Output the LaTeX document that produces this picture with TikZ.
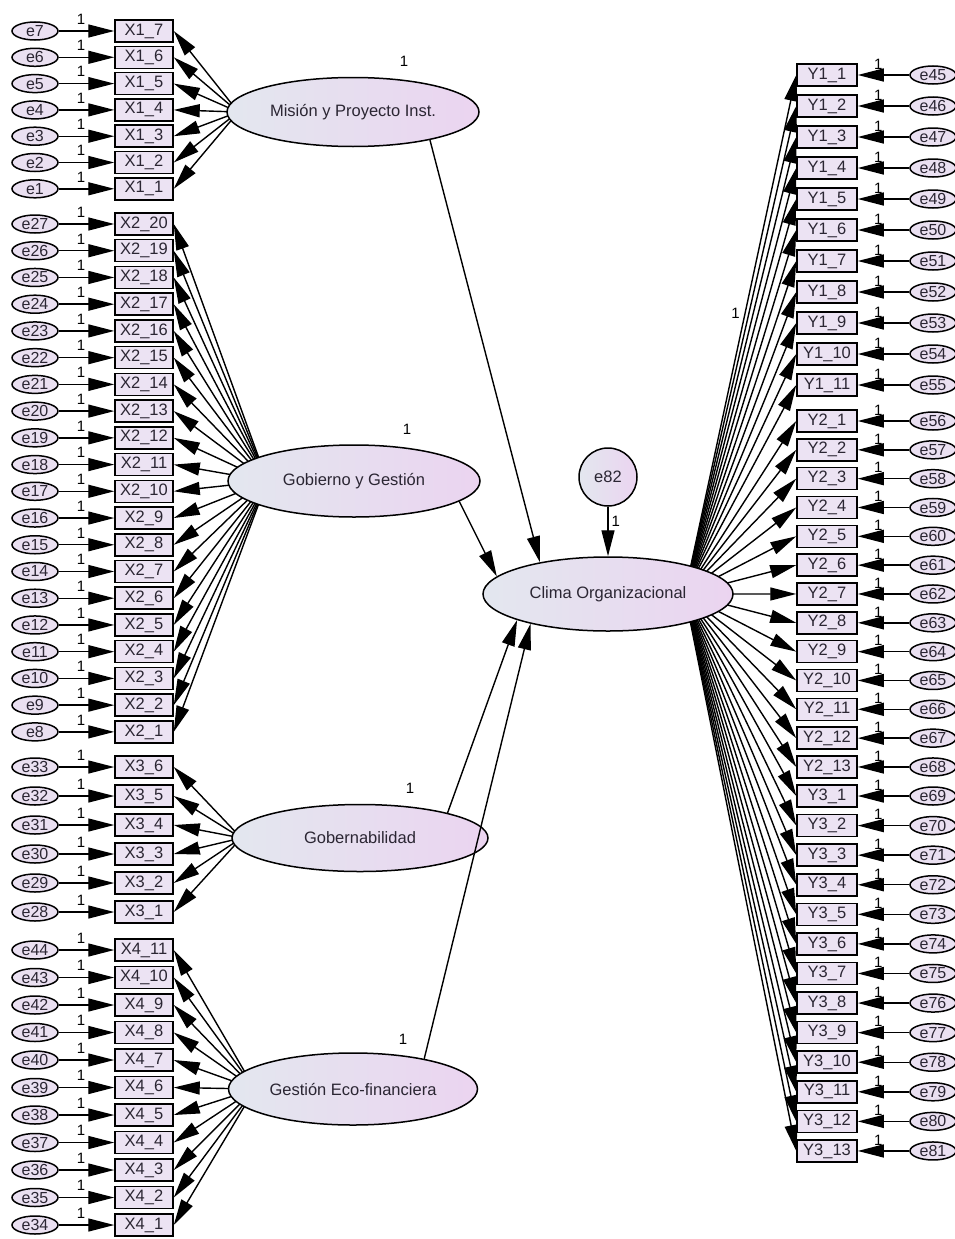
\documentclass[tikz,border=0pt]{standalone}
\usepackage{fontspec}
\setmainfont{Liberation Sans}
\usetikzlibrary{shapes.geometric,arrows.meta,calc,backgrounds}

\definecolor{latleft}{HTML}{E3E7EF}
\definecolor{latright}{HTML}{EBD4F0}
\definecolor{boxfill}{HTML}{ECE3F3}
\definecolor{errfill}{HTML}{EAE0F1}
\definecolor{ink}{HTML}{2B2633}

\tikzset{
  latent/.style={ellipse, draw, line width=1.5pt, inner sep=0pt,
    left color=latleft, right color=latright, text=ink,
    font=\fontsize{16.5}{18}\selectfont},
  obsbox/.style={rectangle, draw, line width=1.5pt, fill=boxfill,
    minimum height=22pt, inner sep=0pt, text=ink,
    font=\fontsize{16.5}{18}\selectfont},
  errnode/.style={ellipse, draw, line width=1.5pt, fill=errfill,
    minimum width=46pt, minimum height=18pt, inner sep=0pt, text=ink,
    font=\fontsize{16}{18}\selectfont},
  arr/.style={-{Triangle[length=26pt,width=13pt]}, line width=1.4pt},
  fixlab/.style={font=\fontsize{15}{17}\selectfont, inner sep=1pt},
}

\begin{document}
\begin{tikzpicture}[x=1pt,y=-1pt]
  \useasboundingbox (0,0) rectangle (955,1239);

  % latent variables
  \node[latent, minimum width=252pt, minimum height=69pt] (mision) at (353,112) {Misión y Proyecto Inst.};
  \node[latent, minimum width=252pt, minimum height=72pt] (gobierno) at (354,481) {Gobierno y Gestión};
  \node[latent, minimum width=256pt, minimum height=67pt] (gobern) at (360,838) {Gobernabilidad};
  \node[latent, minimum width=249pt, minimum height=72pt] (gestion) at (353,1089) {Gestión Eco-financiera};
  \node[latent, minimum width=250pt, minimum height=74pt] (clima) at (608,594) {Clima Organizacional};
  \node[latent, circle, minimum size=58pt] (e82) at (608,477) {e82};

  \node[fixlab] (v1) at ($(mision.north)+(51,-15)$) {1};
  \node[fixlab] (v2) at ($(gobierno.north)+(53,-15)$) {1};
  \node[fixlab] (v3) at ($(gobern.north)+(50,-15)$) {1};
  \node[fixlab] (v4) at ($(gestion.north)+(50,-13)$) {1};

  \coordinate (mhub) at ($(mision.west)+(12,0)$);
  \coordinate (ghub) at ($(gobierno.west)+(40,0)$);
  \coordinate (bhub) at ($(gobern.west)+(10,0)$);
  \coordinate (fhub) at ($(gestion.west)+(27,0)$);
  \coordinate (chub) at ($(clima.east)+(-49,0)$);

  % left indicators
  \foreach \k in {1,...,7}{
    \pgfmathsetmacro{\yy}{31+(7-\k)*26.3}
    \pgfmathtruncatemacro{\ee}{\k}
    \node[obsbox, minimum width=58pt] (x1-\k) at (144,\yy) {X1\_\k};
    \node[errnode] (e\ee) at (35,\yy) {e\ee};
    \draw[arr] (e\ee) -- (x1-\k) node[fixlab, pos=0.4, above, yshift=5pt] (f\ee) {1};
  }
  \foreach \k in {1,...,20}{
    \pgfmathsetmacro{\yy}{224+(20-\k)*26.73}
    \pgfmathtruncatemacro{\ee}{\k+7}
    \node[obsbox, minimum width=58pt] (x2-\k) at (144,\yy) {X2\_\k};
    \node[errnode] (e\ee) at (35,\yy) {e\ee};
    \draw[arr] (e\ee) -- (x2-\k) node[fixlab, pos=0.4, above, yshift=5pt] (f\ee) {1};
  }
  \foreach \k in {1,...,6}{
    \pgfmathsetmacro{\yy}{767+(6-\k)*29}
    \pgfmathtruncatemacro{\ee}{\k+27}
    \node[obsbox, minimum width=58pt] (x3-\k) at (144,\yy) {X3\_\k};
    \node[errnode] (e\ee) at (35,\yy) {e\ee};
    \draw[arr] (e\ee) -- (x3-\k) node[fixlab, pos=0.4, above, yshift=5pt] (f\ee) {1};
  }
  \foreach \k in {1,...,11}{
    \pgfmathsetmacro{\yy}{950+(11-\k)*27.5}
    \pgfmathtruncatemacro{\ee}{\k+33}
    \node[obsbox, minimum width=58pt] (x4-\k) at (144,\yy) {X4\_\k};
    \node[errnode] (e\ee) at (35,\yy) {e\ee};
    \draw[arr] (e\ee) -- (x4-\k) node[fixlab, pos=0.4, above, yshift=5pt] (f\ee) {1};
  }

  % right indicators
  \foreach \k in {1,...,11}{
    \pgfmathsetmacro{\yy}{75+(\k-1)*31}
    \pgfmathtruncatemacro{\ee}{\k+44}
    \node[obsbox, minimum width=60pt] (y1-\k) at (827,\yy) {Y1\_\k};
    \node[errnode] (e\ee) at (933,\yy) {e\ee};
    \draw[arr] (e\ee) -- (y1-\k) node[fixlab, pos=0.6, above, yshift=4pt] (f\ee) {1};
  }
  \foreach \k in {1,...,13}{
    \pgfmathsetmacro{\yy}{421+(\k-1)*28.83}
    \pgfmathtruncatemacro{\ee}{\k+55}
    \node[obsbox, minimum width=60pt] (y2-\k) at (827,\yy) {Y2\_\k};
    \node[errnode] (e\ee) at (933,\yy) {e\ee};
    \draw[arr] (e\ee) -- (y2-\k) node[fixlab, pos=0.6, above, yshift=4pt] (f\ee) {1};
  }
  \foreach \k in {1,...,13}{
    \pgfmathsetmacro{\yy}{796+(\k-1)*29.58}
    \pgfmathtruncatemacro{\ee}{\k+68}
    \node[obsbox, minimum width=60pt] (y3-\k) at (827,\yy) {Y3\_\k};
    \node[errnode] (e\ee) at (933,\yy) {e\ee};
    \draw[arr] (e\ee) -- (y3-\k) node[fixlab, pos=0.6, above, yshift=4pt] (f\ee) {1};
  }

  % loadings, behind the ellipses
  \begin{pgfonlayer}{background}
    \fill[white] (0,0) rectangle (955,1239);
    \foreach \k in {1,...,7} \draw[arr] (mhub) -- (x1-\k.east);
    \foreach \k in {1,...,20} \draw[arr] (ghub) -- (x2-\k.east);
    \foreach \k in {1,...,6} \draw[arr] (bhub) -- (x3-\k.east);
    \foreach \k in {1,...,11} \draw[arr] (fhub) -- (x4-\k.east);
    \foreach \k in {1,...,11} \draw[arr] (chub) -- (y1-\k.west);
    \foreach \k in {1,...,13} \draw[arr] (chub) -- (y2-\k.west);
    \foreach \k in {1,...,13} \draw[arr] (chub) -- (y3-\k.west);
  \end{pgfonlayer}
  \path (chub) -- (y1-1.west) node[fixlab, pos=0.54, left, xshift=-4pt] (fy) {1};

  % structural paths
  \draw[arr] (mision.-20) -- (clima.155);
  \draw[arr] (gobierno.-11) -- (clima.171);
  \draw[arr] (gobern.16) -- (clima.196);
  \draw[arr] (gestion.23) -- (clima.201);
  \draw[arr] (e82) -- (clima) node[fixlab, pos=0.3, right, xshift=2pt] (fe) {1};
\end{tikzpicture}
\end{document}
